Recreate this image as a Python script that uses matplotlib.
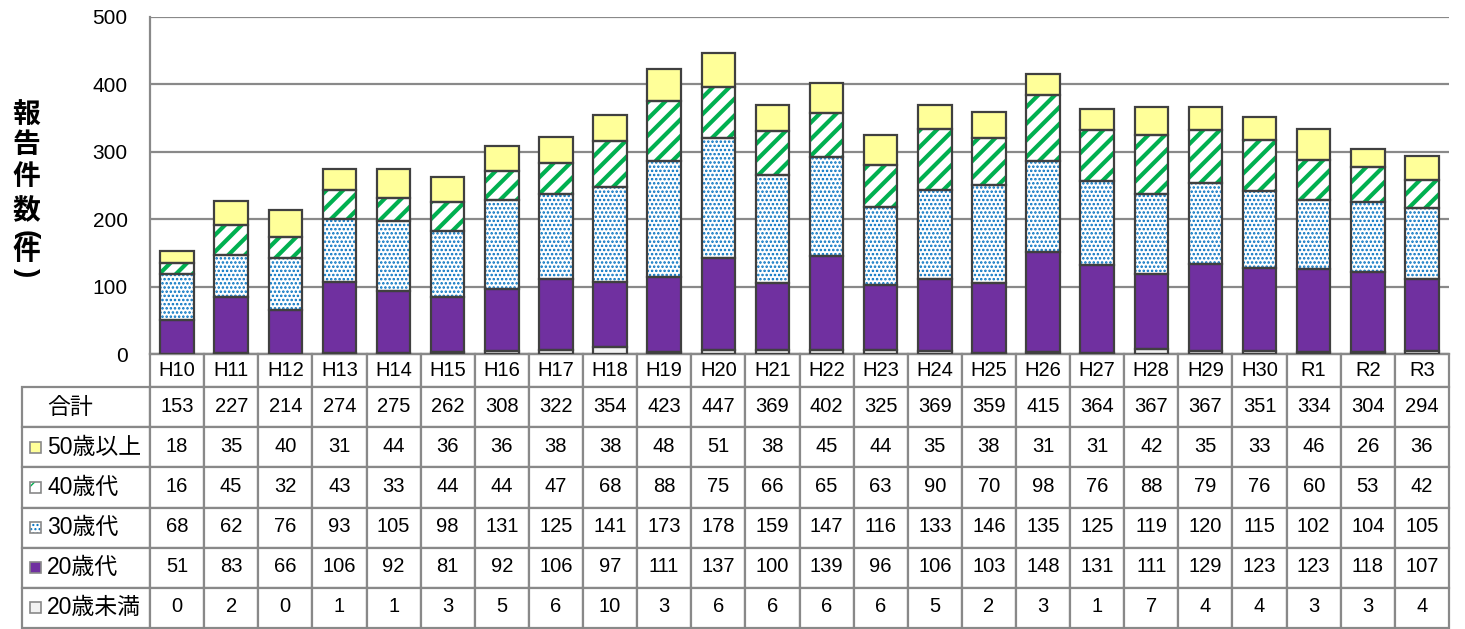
import matplotlib.pyplot as plt
from matplotlib.patches import Rectangle
from matplotlib.table import Table

plt.rcParams['font.family'] = ['Liberation Sans', 'Noto Sans CJK JP']

years = ["H10", "H11", "H12", "H13", "H14", "H15", "H16", "H17", "H18", "H19",
         "H20", "H21", "H22", "H23", "H24", "H25", "H26", "H27", "H28", "H29",
         "H30", "R1", "R2", "R3"]
total = [153, 227, 214, 274, 275, 262, 308, 322, 354, 423, 447, 369, 402, 325,
         369, 359, 415, 364, 367, 367, 351, 334, 304, 294]
over50 = [18, 35, 40, 31, 44, 36, 36, 38, 38, 48, 51, 38, 45, 44, 35, 38, 31, 31,
          42, 35, 33, 46, 26, 36]
age40 = [16, 45, 32, 43, 33, 44, 44, 47, 68, 88, 75, 66, 65, 63, 90, 70, 98, 76,
         88, 79, 76, 60, 53, 42]
age30 = [68, 62, 76, 93, 105, 98, 131, 125, 141, 173, 178, 159, 147, 116, 133, 146,
         135, 125, 119, 120, 115, 102, 104, 105]
age20 = [51, 83, 66, 106, 92, 81, 92, 106, 97, 111, 137, 100, 139, 96, 106, 103,
         148, 131, 111, 129, 123, 123, 118, 107]
under20 = [0, 2, 0, 1, 1, 3, 5, 6, 10, 3, 6, 6, 6, 6, 5, 2, 3, 1, 7, 4, 4, 3, 3, 4]

rowNames = ["合計", "50歳以上", "40歳代", "30歳代", "20歳代", "20歳未満"]

W, H = 1465, 629
fig = plt.figure(figsize=(W / 100, H / 100), dpi=100)
axL, axR, axT, axB = 150, 1449, 17, 354
ax = fig.add_axes([axL / W, 1 - axB / H, (axR - axL) / W, (axB - axT) / H])

edge = "#404040"
grid = "#898989"
# (values, facecolor, hatch, hatchcolor, hatch linewidth)
series = [
    (under20, "#F2F2F2", None, None, 1.0),
    (age20, "#7030A0", None, None, 1.0),
    (age30, "white", "....", "#0070C0", 1.2),
    (age40, "white", "//", "#00B050", 3.0),
    (over50, "#FFFF99", None, None, 1.0),
]

x = list(range(len(years)))
width = 0.62
bottom = [0] * len(years)
for vals, fc, hatch, hc, hlw in series:
    if hatch:
        with plt.rc_context({'hatch.linewidth': hlw}):
            bars = ax.bar(x, vals, width, bottom=bottom, color=fc, edgecolor=hc,
                          linewidth=0, hatch=hatch, zorder=2)
        for b in bars:
            if hasattr(b, "set_hatch_linewidth"):
                b.set_hatch_linewidth(hlw)
    else:
        ax.bar(x, vals, width, bottom=bottom, color=fc, linewidth=0, zorder=2)
    ax.bar(x, vals, width, bottom=bottom, fill=False, edgecolor=edge,
           linewidth=1.6, zorder=3)
    bottom = [b + v for b, v in zip(bottom, vals)]

ax.set_xlim(-0.5, len(years) - 0.5)
ax.set_ylim(0, 500)
ax.set_yticks([0, 100, 200, 300, 400, 500])
ax.tick_params(axis='y', length=0, pad=16, labelsize=15)
ax.tick_params(axis='x', length=0, labelbottom=False)
ax.yaxis.grid(True, color=grid, linewidth=1.6, zorder=0)
ax.set_axisbelow(True)
for s in ["top", "right"]:
    ax.spines[s].set_visible(False)
ax.spines["left"].set_color(grid)
ax.spines["left"].set_linewidth(1.6)
ax.spines["bottom"].set_color(grid)
ax.spines["bottom"].set_linewidth(1.6)

# vertical y label
labelChars = [("報", 117, 0), ("告", 146, 0), ("件", 178, 0), ("数", 212, 0),
              ("(", 235, -90), ("件", 253, 0), (")", 273, -90)]
for ch, py, rot in labelChars:
    fig.text(26 / W, 1 - py / H, ch, fontsize=20, fontweight='bold',
             ha='center', va='center', rotation=rot)

# data table (grid from Table, text placed in axes coords)
tabL, tabT, tabB = 22, 354, 628
headH, rowH = 33, 40
axW, axH = axR - axL, axB - axT
tbl = Table(ax, bbox=[(tabL - axL) / axW, -(tabB - tabT) / axH,
                      (axR - tabL) / axW, (tabB - tabT) / axH])
labelW = axL - tabL
colW = axW / len(years)
rows = [total, over50, age40, age30, age20, under20]

c = tbl.add_cell(0, 0, labelW, headH, text="")
c.visible_edges = ''
for j in range(len(years)):
    tbl.add_cell(0, j + 1, colW, headH, text="")
for i in range(len(rows)):
    for j in range(len(years) + 1):
        tbl.add_cell(i + 1, j, labelW if j == 0 else colW, rowH, text="")
for cell in tbl.get_celld().values():
    cell.set_edgecolor(grid)
    cell.set_linewidth(1.6)
ax.add_table(tbl)

numSize = 14.5
for j, yname in enumerate(years):
    ax.text((j + 0.5) / len(years), -(headH / 2) / axH, yname,
            transform=ax.transAxes, ha='center', va='center', fontsize=numSize)
for i, (name, vals) in enumerate(zip(rowNames, rows)):
    cy = -(headH + rowH * i + rowH / 2) / axH
    ax.text((47 - axL) / axW, cy, name, transform=ax.transAxes,
            ha='left', va='center', fontsize=16.5)
    for j, v in enumerate(vals):
        ax.text((j + 0.5) / len(years), cy, str(v), transform=ax.transAxes,
                ha='center', va='center', fontsize=numSize)

# legend markers in the table labels
markerStyles = [series[4], series[3], series[2], series[1], series[0]]
for i, (vals, fc, hatch, hc, hlw) in enumerate(markerStyles):
    cy = tabT + headH + rowH * (i + 1) + rowH / 2
    size = 11
    r = Rectangle(((30 - axL) / axW, (axB - cy - size / 2) / axH),
                  size / axW, size / axH, transform=ax.transAxes,
                  facecolor=fc, edgecolor=hc if hatch else grid,
                  hatch=hatch, linewidth=0 if hatch else 1.2, clip_on=False)
    ax.add_patch(r)
    if hatch:
        ax.add_patch(Rectangle(((30 - axL) / axW, (axB - cy - size / 2) / axH),
                               size / axW, size / axH, transform=ax.transAxes,
                               fill=False, edgecolor=grid, linewidth=1.2,
                               clip_on=False))

fig.savefig("out.png", dpi=100)
